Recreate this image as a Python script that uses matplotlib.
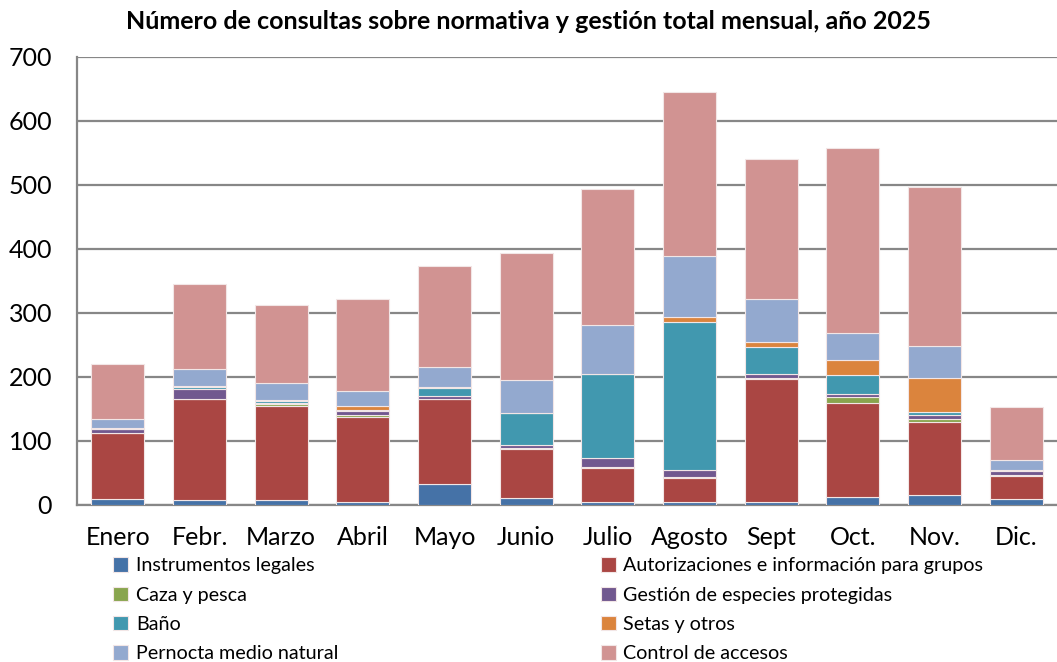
import numpy as np
import matplotlib
matplotlib.use("Agg")
import matplotlib.pyplot as plt

plt.rcParams['font.family'] = ['Lato', 'DejaVu Sans']

meses = ['Enero', 'Febr.', 'Marzo', 'Abril', 'Mayo', 'Junio',
         'Julio', 'Agosto', 'Sept', 'Oct.', 'Nov.', 'Dic.']

instrumentos = [9, 8, 7, 5, 32, 11, 4, 5, 4, 13, 16, 10]
autorizaciones = [103, 157, 148, 133, 133, 76, 54, 37, 193, 147, 113, 36]
caza = [1, 1, 2, 2, 1, 2, 2, 2, 2, 9, 5, 1]
gestion = [5, 15, 3, 7, 5, 4, 13, 10, 5, 4, 6, 6]
bano = [1, 3, 2, 2, 12, 51, 132, 232, 43, 30, 6, 1]
setas = [2, 2, 2, 6, 2, 0, 0, 7, 7, 24, 53, 1]
pernocta = [13, 27, 27, 23, 31, 51, 77, 96, 68, 41, 50, 15]
control = [86, 133, 121, 144, 157, 198, 212, 256, 219, 290, 248, 83]

series = [
    ('Instrumentos legales', instrumentos, '#4572A7'),
    ('Autorizaciones e información para grupos', autorizaciones, '#AA4643'),
    ('Caza y pesca', caza, '#89A54E'),
    ('Gestión de especies protegidas', gestion, '#71588F'),
    ('Baño', bano, '#4198AF'),
    ('Setas y otros', setas, '#DB843D'),
    ('Pernocta medio natural', pernocta, '#93A9CF'),
    ('Control de accesos', control, '#D19392'),
]

fig = plt.figure(figsize=(10.57, 6.62), dpi=100)
ax = fig.add_axes([0.0729, 0.2372, 0.9271, 0.6767])

x = np.arange(len(meses))
bottom = np.zeros(len(meses))
handles = {}
for nombre, vals, color in series:
    vals = np.array(vals, dtype=float)
    b = ax.bar(x, vals, 0.65, bottom=bottom, color=color,
               edgecolor='#f2e6e6', linewidth=0.8, label=nombre, zorder=3)
    handles[nombre] = b
    bottom += vals

ax.set_xlim(-0.5, 11.5)
ax.set_ylim(0, 700)
ax.set_yticks(range(0, 701, 100))
ax.yaxis.grid(True, color='#878787', linewidth=1.6, zorder=0)
ax.set_axisbelow(True)
ax.set_xticks(x)
ax.set_xticklabels(meses)
ax.tick_params(axis='both', length=0, labelsize=18)
ax.tick_params(axis='x', pad=15)
ax.tick_params(axis='y', pad=18)
for s in ['top', 'right']:
    ax.spines[s].set_visible(False)
ax.spines['left'].set_color('#878787')
ax.spines['left'].set_linewidth(1.6)
ax.spines['bottom'].set_color('#878787')
ax.spines['bottom'].set_linewidth(1.6)

orden = ['Instrumentos legales', 'Caza y pesca', 'Baño', 'Pernocta medio natural',
         'Autorizaciones e información para grupos', 'Gestión de especies protegidas',
         'Setas y otros', 'Control de accesos']
fig.legend([handles[n] for n in orden], orden, ncol=2, loc='upper left',
           bbox_to_anchor=(0.098, 0.173), frameon=False, fontsize=14.2,
           handlelength=0.75, handleheight=0.75, handletextpad=0.4,
           columnspacing=13.3, labelspacing=0.62, borderpad=0)

fig.text(0.5, 0.967, 'Número de consultas sobre normativa y gestión total mensual, año 2025',
         ha='center', va='center', fontsize=18, fontweight='bold')

fig.savefig('out.png', dpi=100)
